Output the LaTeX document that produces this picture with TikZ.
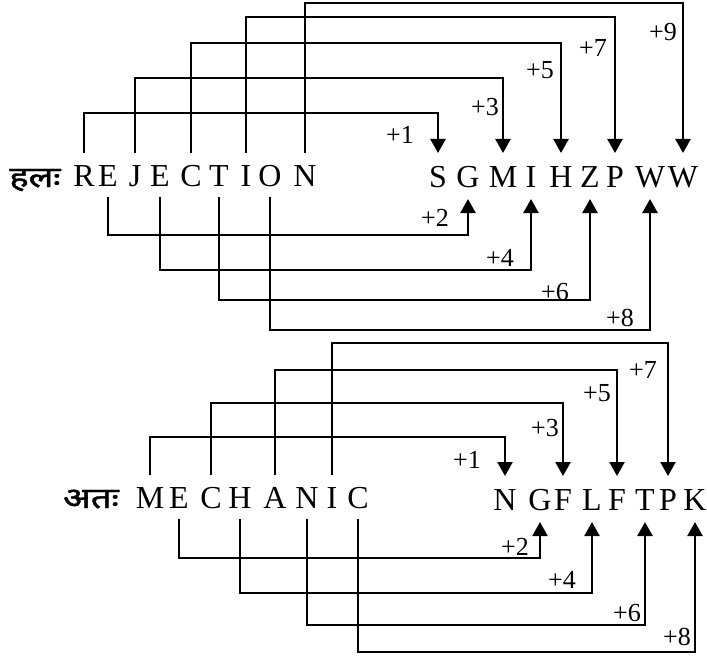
\documentclass[tikz,border=0pt]{standalone}
\usepackage{fontspec}
\usepackage{graphicx}
\setmainfont{Liberation Serif}
\newfontfamily\deva[Script=Devanagari,FakeBold=1.5]{Noto Sans}
\usetikzlibrary{arrows.meta}
\begin{document}
\begin{tikzpicture}[x=1pt,y=-1pt,
  ln/.style={line width=2.5pt},
  arr/.style={ln,-{Triangle[width=15pt,length=14pt]}},
  src/.style={font=\fontsize{32}{32}\selectfont, anchor=base, text height=22pt, text depth=0pt, inner xsep=0pt, inner ysep=11pt, outer sep=0pt},
  res/.style={src, inner ysep=12pt},
  lab/.style={font=\fontsize{26}{26}\selectfont, inner sep=0pt},
  hd/.style={anchor=base, inner sep=0pt}]
\useasboundingbox (0,0) rectangle (707,658);

% ---------- top: REJECTION ----------
\node[hd] (h1) at (35,187) {\scalebox{1.25}[1]{\deva\fontsize{29}{29}\selectfont हलः}};
\foreach \i/\c/\x in {1/R/84,2/E/108,3/J/135,4/E/160,5/C/191,6/T/219,7/I/246,8/O/270,9/N/305}
  \node[src] (t\i) at (\x,186) {\c};
\foreach \i/\c/\x in {1/S/438,2/G/468,3/M/503,4/I/531,5/H/561,6/Z/590,7/P/615,8/W/650,9/W/683}
  \node[res] (u\i) at (\x,187) {\c};
\foreach \i/\y in {1/113,3/78,5/43,7/17,9/3}{
  \coordinate (lv\i) at (0,\y);
  \draw[arr] (t\i.north) -- (t\i.north |- lv\i) -| (u\i.north);
}
\foreach \i/\y in {2/235,4/270,6/300,8/330}{
  \coordinate (lw\i) at (0,\y);
  \draw[arr] (t\i.south) -- (t\i.south |- lw\i) -| (u\i.south);
}
\node[lab] (p9) at (663,32) {+9};
\node[lab] (p7) at (593,48) {+7};
\node[lab] (p5) at (540,70) {+5};
\node[lab] (p3) at (485,107) {+3};
\node[lab] (p1) at (400,135) {+1};
\node[lab] (p2) at (435,218) {+2};
\node[lab] (p4) at (500,258) {+4};
\node[lab] (p6) at (555,292) {+6};
\node[lab] (p8) at (620,318) {+8};

% ---------- bottom: MECHANIC ----------
\node[hd] (h2) at (91,508) {\scalebox{1.25}[1]{\deva\fontsize{29}{29}\selectfont अतः}};
\foreach \i/\c/\x in {1/M/150,2/E/179,3/C/211,4/H/240,5/A/275,6/N/307,7/I/332,8/C/358}
  \node[src] (m\i) at (\x,508) {\c};
\foreach \i/\c/\x in {1/N/505,2/G/540,3/F/563,4/L/592,5/F/617,6/T/645,7/P/668,8/K/695}
  \node[res] (n\i) at (\x,510) {\c};
\foreach \i/\y in {1/437,3/403,5/370,7/343}{
  \coordinate (mv\i) at (0,\y);
  \draw[arr] (m\i.north) -- (m\i.north |- mv\i) -| (n\i.north);
}
\foreach \i/\y in {2/558,4/593,6/625,8/652}{
  \coordinate (mw\i) at (0,\y);
  \draw[arr] (m\i.south) -- (m\i.south |- mw\i) -| (n\i.south);
}
\node[lab] (q1) at (467,460) {+1};
\node[lab] (q3) at (545,428) {+3};
\node[lab] (q5) at (597,393) {+5};
\node[lab] (q7) at (643,370) {+7};
\node[lab] (q2) at (515,547) {+2};
\node[lab] (q4) at (562,580) {+4};
\node[lab] (q6) at (627,613) {+6};
\node[lab] (q8) at (677,637) {+8};
\end{tikzpicture}
\end{document}
